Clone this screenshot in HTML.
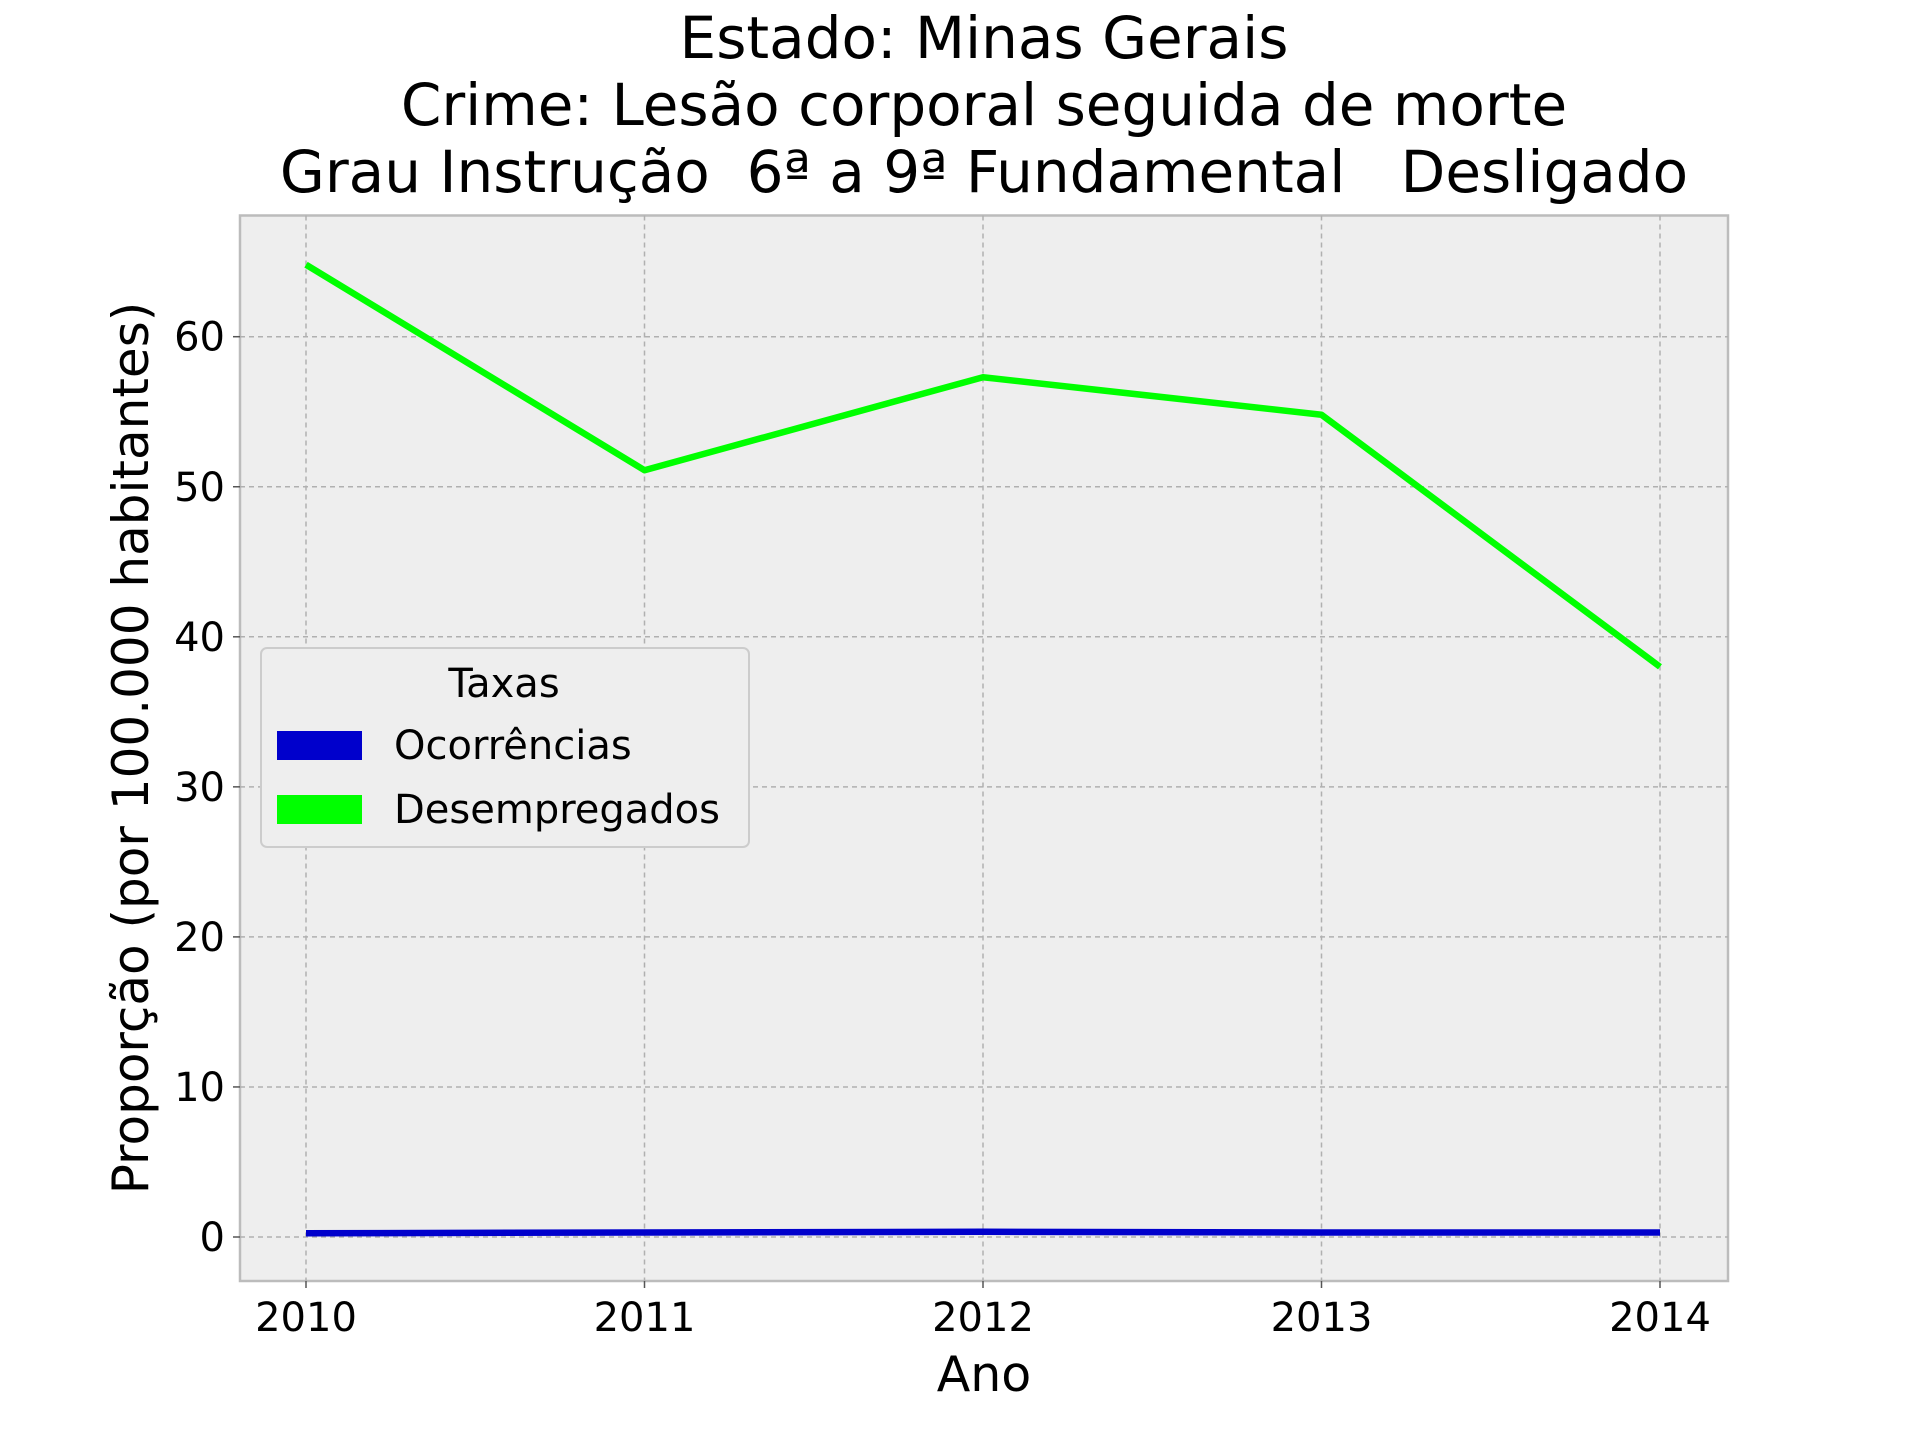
<!DOCTYPE html>
<html><head><meta charset="utf-8"><style>
html,body{margin:0;padding:0;background:#fff;}
svg{display:block;font-family:"DejaVu Sans","Liberation Sans",sans-serif;}
</style></head><body>
<svg id="chart" width="1920" height="1440" viewBox="0 0 1920 1440" xmlns="http://www.w3.org/2000/svg">
<rect width="1920" height="1440" fill="#fff"/>
<g font-size="58" text-anchor="middle" fill="#000">
<text x="984" y="58">Estado: Minas Gerais</text>
<text x="984" y="125">Crime: Lesão corporal seguida de morte</text>
<text x="984" y="192" xml:space="preserve">Grau Instrução  6ª a 9ª Fundamental   Desligado</text>
</g>
<rect x="240" y="215.5" width="1488" height="1065.5" fill="#eeeeee" stroke="#bcbcbc" stroke-width="2.5"/>
<g id="grid"></g>
<g id="ticks"></g>
<g id="series"></g>
<text x="984" y="1391" font-size="49" text-anchor="middle">Ano</text>
<text transform="translate(148,748) rotate(-90)" font-size="50" text-anchor="middle">Proporção (por 100.000 habitantes)</text>
<g>
<rect x="261" y="648" width="488" height="199" rx="6" fill="#eeeeee" stroke="#cccccc" stroke-width="2"/>
<text x="504" y="697" font-size="40" text-anchor="middle">Taxas</text>
<g>
<rect x="277" y="731" width="85" height="29" fill="#0000cc"/>
<text x="394" y="759" font-size="40">Ocorrências</text></g>
<g>
<rect x="277" y="795" width="85" height="29" fill="#00ff00"/>
<text x="394" y="823" font-size="40">Desempregados</text></g>
</g>
</svg>
<script>
const years = [2010, 2011, 2012, 2013, 2014];
const ocorrencias = [0.25, 0.3, 0.35, 0.3, 0.3];
const desempregados = [64.8, 51.1, 57.3, 54.8, 38.0];
const yTicks = [0, 10, 20, 30, 40, 50, 60];
const NS = "http://www.w3.org/2000/svg";
function xs(v){ return 306 + (v - 2010) * (1660 - 306) / 4; }
function ys(v){ return 1237 - v * 15.005; }
const grid = document.getElementById('grid');
const ticks = document.getElementById('ticks');
function mk(tag, attrs, parent){ const e=document.createElementNS(NS,tag); for(const k in attrs) e.setAttribute(k,attrs[k]); parent.appendChild(e); return e; }
years.forEach(y=>{
  const g = mk('line',{x1:xs(y),x2:xs(y),y1:215.5,y2:1281,stroke:'#b0b0b0','stroke-width':1.5,'stroke-dasharray':'5,4'},grid);
  
  
  const t = mk('line',{x1:xs(y),x2:xs(y),y1:1281,y2:1288,stroke:'#555','stroke-width':1.5},ticks);
  
  
  const l = mk('text',{x:xs(y),y:1331,'font-size':40,'text-anchor':'middle'},ticks);
  l.textContent = y;
  
  
});
yTicks.forEach(v=>{
  const g = mk('line',{x1:240,x2:1728,y1:ys(v),y2:ys(v),stroke:'#b0b0b0','stroke-width':1.5,'stroke-dasharray':'5,4'},grid);
  
  
  const t = mk('line',{x1:233,x2:240,y1:ys(v),y2:ys(v),stroke:'#555','stroke-width':1.5},ticks);
  
  
  const l = mk('text',{x:225,y:ys(v)+14,'font-size':40,'text-anchor':'end'},ticks);
  l.textContent = v;
  
  
});
const series = document.getElementById('series');
function line(vals, color, name){
  const p = mk('polyline',{points: vals.map((v,i)=>xs(years[i])+','+ys(v)).join(' '), fill:'none', stroke:color,'stroke-width':6.5,'stroke-linejoin':'round'},series);
  
  
}
line(desempregados,'#00ff00','desempregados-line');
line(ocorrencias,'#0000cc','ocorrencias-line');
</script>
</body></html>
